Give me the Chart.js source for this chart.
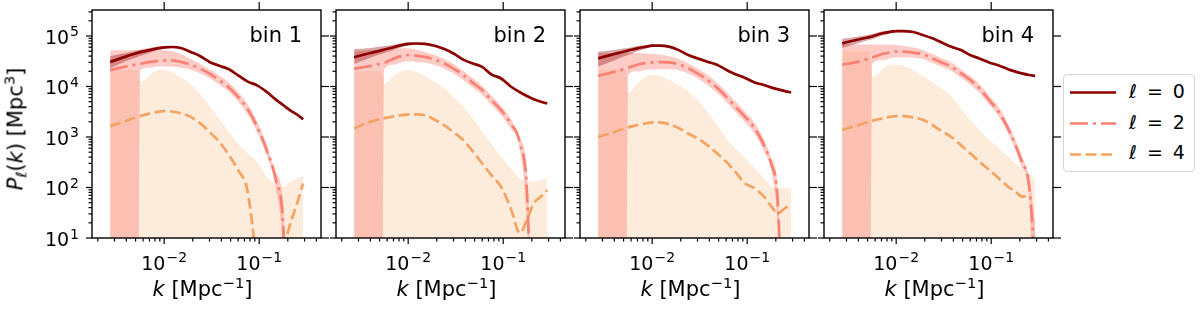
<!DOCTYPE html>
<html>
<head>
<meta charset="utf-8">
<script src="https://cdn.jsdelivr.net/npm/chart.js@4.4.1/dist/chart.umd.min.js"></script>
<style>
  body { margin: 0; background: #fff; }
  #fig { position: relative; width: 1200px; height: 311px; overflow: hidden; font-family: 'DejaVu Sans', sans-serif; color: #000; }
  #fig canvas { position: absolute; top: 0; }
  .txt { position: absolute; white-space: nowrap; line-height: 1; font-size: 21px; z-index: 5; }
  .sup { font-size: 70%; position: relative; top: -0.55em; }
  .sub { font-size: 70%; position: relative; top: 0.3em; }
  .leg { font-size: 19px; word-spacing: 4px; }
  #legend { position: absolute; left: 1063px; top: 74px; width: 132px; height: 98px; box-sizing: border-box;
            border: 1px solid #d4d4d4; border-radius: 4px; background: #fff; z-index: 4; }
  #legend svg { position: absolute; left: 0; top: 0; }
</style>
</head>
<body>
<div id="fig"></div>
<script>
// shared k grid [Mpc^-1]
const kValues = [0.0027, 0.004, 0.0052, 0.0056, 0.007, 0.0085, 0.01, 0.012, 0.015, 0.019, 0.024, 0.03,
                 0.038, 0.048, 0.06, 0.075, 0.095, 0.12, 0.15, 0.18, 0.21, 0.25, 0.29];

const binNames = ['bin 1', 'bin 2', 'bin 3', 'bin 4'];
const legendLabels = ['0', '2', '4'];
const xTickValues = [0.01, 0.1];
const yTickValues = [10, 100, 1000, 10000, 100000];

// bin 1
const bin1_l0   = [30500, 39500, 46000, 48000, 52500, 57000, 59700, 60500, 57800, 48300, 39700, 30600, 25800, 21900, 16600, 12600, 10500, 7800, 5500, 4250, 3400, 2790, 2250];
const bin1_l0Lo = [23000, 32000, 38000, 40000, 46000, 52000, 56000, 58000, 55500, null, null, null, null, null, null, null, null, null, null, null, null, null, null];
const bin1_l0Hi = [40000, 46000, 52000, 54000, 58000, 62000, 63500, 63000, 60000, null, null, null, null, null, null, null, null, null, null, null, null, null, null];
const bin1_l2   = [21000, 25000, 27500, 28000, 30500, 32000, 33000, 33000, 30600, 27000, 22600, 18000, 13300, 9600, 6200, 3650, 1590, 550, 140, 14, 0.001, null, null];
const bin1_l2Lo = [0.001, 0.001, 0.001, 21000, 23500, 25000, 25000, 25000, 23500, 21500, 18000, 14500, 10800, 7800, 5000, 2900, 1250, 420, 95, 4, 0.001, null, null];
const bin1_l2Hi = [52000, 52000, 52000, 52000, 52000, 52000, 52000, 50000, 44000, 35000, 28000, 22000, 16500, 12000, 7800, 4600, 2050, 720, 200, 40, 0.001, null, null];
const bin1_l4   = [1640, 2100, 2500, 2600, 2900, 3150, 3250, 3200, 2950, 2500, 1860, 1260, 800, 440, 220, 89, 3, null, null, 6, 18, 48, 120];
const bin1_l4Hi = [21000, 21000, 21000, 12300, 16500, 21000, 21500, 19000, 15000, 11000, 7000, 4100, 2300, 1260, 745, 470, 324, 163, 112, 102, 130, 150, 175];

// bin 2
const bin2_l0   = [38000, 46000, 52000, 54000, 60000, 66000, 70000, 71000, 70000, 64000, 55000, 45000, 34000, 28400, 24500, 17400, 14400, 10000, 7700, 6400, 5600, 5000, 4600];
const bin2_l0Lo = [28000, 37000, 44000, 46000, 53000, 60000, 65000, 67000, 66500, null, null, null, null, null, null, null, null, null, null, null, null, null, null];
const bin2_l0Hi = [55000, 58000, 62000, 63000, 67000, 72000, 75000, 75000, 73500, null, null, null, null, null, null, null, null, null, null, null, null, null, null];
const bin2_l2   = [22600, 25400, 28500, 29300, 35500, 40000, 42000, 41000, 38500, 34000, 28500, 22600, 16700, 11800, 8500, 5400, 3400, 1850, 750, 50, 0.001, null, null];
const bin2_l2Lo = [0.001, 0.001, 0.001, 22000, 27000, 30000, 31500, 31000, 29500, 26500, 22500, 18000, 13300, 9400, 6800, 4300, 2700, 1450, 560, 12, 0.001, null, null];
const bin2_l2Hi = [50000, 52000, 54000, 55000, 56000, 57000, 57000, 54000, 48000, 42000, 35000, 28000, 20500, 14500, 10400, 6600, 4100, 2300, 950, 150, 0.001, null, null];
const bin2_l4   = [1480, 2000, 2300, 2350, 2550, 2700, 2800, 2800, 2700, 2200, 1700, 1250, 870, 520, 300, 176, 103, 39, 12.6, 24.5, 49, 66, 89];
const bin2_l4Hi = [20000, 20000, 20000, 11500, 16000, 20000, 21000, 19500, 16000, 12300, 9100, 6200, 4000, 2350, 1260, 745, 405, 240, 152, 130, 130, 140, 152];

// bin 3
const bin3_l0   = [36000, 44000, 50000, 51500, 57000, 61000, 64500, 64500, 61500, 52500, 42000, 36000, 31000, 27000, 21500, 17500, 14800, 12000, 10700, 9500, 8800, 8100, 7600];
const bin3_l0Lo = [24500, 33000, 40000, 42000, 50000, 56000, 61000, 62000, 59000, null, null, null, null, null, null, null, null, null, null, null, null, null, null];
const bin3_l0Hi = [49000, 53000, 57000, 58000, 63000, 66000, 68000, 67000, 64000, null, null, null, null, null, null, null, null, null, null, null, null, null, null];
const bin3_l2   = [16300, 19600, 22500, 23500, 27000, 29000, 30000, 30500, 30000, 27500, 23000, 18200, 13500, 9500, 6300, 4000, 2500, 1480, 690, 280, 50, 0.001, null];
const bin3_l2Lo = [0.001, 0.001, 0.001, 17000, 20000, 21500, 22000, 22000, 22000, 21000, 18000, 14500, 10700, 7500, 5000, 3150, 1950, 1150, 520, 200, 15, 0.001, null];
const bin3_l2Hi = [46000, 46000, 46000, 46000, 46000, 45000, 44000, 43000, 40000, 35000, 29000, 23000, 17000, 12000, 8000, 5100, 3200, 1900, 900, 380, 90, 0.001, null];
const bin3_l4   = [1000, 1260, 1500, 1550, 1730, 1850, 1950, 1950, 1800, 1500, 1170, 940, 690, 475, 325, 205, 120, 96, 66, 42, 31, 39, 46];
const bin3_l4Hi = [22000, 22000, 22000, 7600, 11500, 15500, 16800, 16300, 13400, 10700, 7900, 5400, 3150, 1730, 940, 600, 380, 240, 152, 104, 99, 99, 99];

// bin 4
const bin4_l0   = [71600, 85000, 95000, 98000, 112000, 120000, 125000, 125000, 120000, 105000, 90000, 74500, 61000, 53000, 42000, 36000, 30000, 26000, 22000, 19700, 18200, 16900, 16100];
const bin4_l0Lo = [58000, 72000, 83000, 86000, 101000, 111000, 118000, 119000, 115000, null, null, null, null, null, null, null, null, null, null, null, null, null, null];
const bin4_l0Hi = [88000, 98000, 106000, 109000, 122000, 129000, 132000, 131000, 125000, null, null, null, null, null, null, null, null, null, null, null, null, null, null];
const bin4_l2   = [27000, 31000, 36000, 37500, 43500, 47000, 49000, 49000, 47000, 43500, 36000, 30000, 24800, 18200, 13500, 9200, 5400, 3150, 1480, 690, 325, 112, 3];
const bin4_l2Lo = [0.001, 0.001, 0.001, 28000, 33000, 36000, 37500, 38000, 37000, 35000, 29500, 24500, 20300, 14900, 11000, 7500, 4400, 2550, 1200, 550, 250, 75, 0.001];
const bin4_l2Hi = [68000, 68000, 68000, 68000, 68000, 67000, 66000, 63000, 59000, 53000, 44000, 36500, 30000, 22000, 16300, 11200, 6600, 3900, 1850, 870, 420, 160, 20];
const bin4_l4   = [1380, 1730, 2000, 2100, 2300, 2500, 2600, 2600, 2450, 2200, 1730, 1320, 1000, 690, 475, 325, 224, 152, 104, 83, 66, 70, null];
const bin4_l4Hi = [50000, 50000, 50000, 15600, 21200, 26800, 26800, 25600, 21200, 16300, 12000, 9200, 6300, 3700, 2200, 1380, 870, 600, 410, 300, 240, 190, 150];

const bins = [
    { l0: bin1_l0, l0Lo: bin1_l0Lo, l0Hi: bin1_l0Hi, l2: bin1_l2, l2Lo: bin1_l2Lo, l2Hi: bin1_l2Hi, l4: bin1_l4, l4Hi: bin1_l4Hi },
    { l0: bin2_l0, l0Lo: bin2_l0Lo, l0Hi: bin2_l0Hi, l2: bin2_l2, l2Lo: bin2_l2Lo, l2Hi: bin2_l2Hi, l4: bin2_l4, l4Hi: bin2_l4Hi },
    { l0: bin3_l0, l0Lo: bin3_l0Lo, l0Hi: bin3_l0Hi, l2: bin3_l2, l2Lo: bin3_l2Lo, l2Hi: bin3_l2Hi, l4: bin3_l4, l4Hi: bin3_l4Hi },
    { l0: bin4_l0, l0Lo: bin4_l0Lo, l0Hi: bin4_l0Hi, l2: bin4_l2, l2Lo: bin4_l2Lo, l2Hi: bin4_l2Hi, l4: bin4_l4, l4Hi: bin4_l4Hi }
];

// styles
const lineColors = ['#8b0000', '#fa8072', '#f4a460'];
const bandColors = ['rgba(139,0,0,0.35)', 'rgba(250,128,114,0.4)', 'rgba(244,164,96,0.22)'];
const lineDashes = [[], [18, 5, 3, 5], [11, 4.5]];
const lineWidth = 2.7;

// layout of the panels (pixels)
const panelLefts = [92, 336, 580, 824];
const panelWidth = 229;
const plotTop = 10, plotBottom = 238, figHeight = 311;
const xMin = 0.00174, xMax = 0.447;
const yMin = 10, yMax = 327000;
const mainFont = "19px 'DejaVu Sans'", supFont = "14px 'DejaVu Sans'";

Chart.defaults.font.family = "'DejaVu Sans', sans-serif";
Chart.defaults.color = '#000';

// "10" with a raised exponent, like the mathtext tick labels
function drawPow(ctx, value, x, baseline, align) {
    const exp = String(Math.round(Math.log10(value))).replace('-', '\u2212');
    ctx.font = mainFont;
    const w1 = ctx.measureText('10').width;
    ctx.font = supFont;
    const w2 = ctx.measureText(exp).width;
    const total = w1 + 1 + w2;
    const x0 = align === 'center' ? x - total / 2 : x - total;
    ctx.textAlign = 'left';
    ctx.textBaseline = 'alphabetic';
    ctx.fillStyle = '#000';
    ctx.font = mainFont;
    ctx.fillText('10', x0, baseline);
    ctx.font = supFont;
    ctx.fillText(exp, x0 + w1 + 1, baseline - 7.5);
}

// frame, tick marks and tick labels, placed with the chart's own scales
const axisDecor = {
    id: 'axisDecor',
    afterDraw(chart) {
        const { ctx, chartArea: a } = chart;
        const xs = chart.scales.x, ys = chart.scales.y;
        const seg = (x1, y1, x2, y2) => { ctx.beginPath(); ctx.moveTo(x1, y1); ctx.lineTo(x2, y2); ctx.stroke(); };
        ctx.save();
        ctx.strokeStyle = '#000';
        ctx.lineWidth = 1.2;
        for (let e = -4; e <= 1; e++) {
            for (let m = 1; m <= 9; m++) {
                const v = m * Math.pow(10, e);
                if (v < xs.min || v > xs.max) continue;
                const px = xs.getPixelForValue(v);
                seg(px, a.bottom, px, a.bottom + (m === 1 ? 6 : 3.5));
                if (m === 1) seg(px, a.top, px, a.top - 8);
            }
        }
        for (let e = 0; e <= 6; e++) {
            for (let m = 1; m <= 9; m++) {
                const v = m * Math.pow(10, e);
                if (v < ys.min || v > ys.max) continue;
                const py = ys.getPixelForValue(v);
                seg(a.left, py, a.left - (m === 1 ? 6 : 3.5), py);
                if (m === 1) seg(a.right, py, a.right + 8, py);
            }
        }
        ctx.lineWidth = 1.4;
        ctx.strokeRect(a.left, a.top, a.right - a.left, a.bottom - a.top);

        xTickValues.forEach(v => drawPow(ctx, v, xs.getPixelForValue(v), a.bottom + 31.5, 'center'));
        if (chart.options.showYLabels) {
            yTickValues.forEach(v => drawPow(ctx, v, a.left - 13, ys.getPixelForValue(v) + 8, 'right'));
        }
        ctx.restore();
    }
};

const fig = document.getElementById('fig');
const pts = arr => kValues.map((k, i) => ({ x: k, y: arr[i] }));

function lineSet(arr, idx) {
    return {
        data: pts(arr), borderColor: lineColors[idx], borderWidth: lineWidth, borderDash: lineDashes[idx],
        borderCapStyle: 'butt', borderJoinStyle: 'round', pointRadius: 0, fill: false,
        cubicInterpolationMode: 'monotone', order: idx
    };
}
function bandSet(arr, idx, fill) {
    return {
        data: pts(arr), borderWidth: 0, borderColor: 'rgba(0,0,0,0)', backgroundColor: bandColors[idx],
        pointRadius: 0, fill: fill, cubicInterpolationMode: 'monotone', order: 10 + idx
    };
}

bins.forEach((b, i) => {
    const left = panelLefts[i];
    const cLeft = i === 0 ? 0 : left - 20;
    const cWidth = left + panelWidth + 20 - cLeft;
    const canvas = document.createElement('canvas');
    canvas.width = cWidth;
    canvas.height = figHeight;
    canvas.style.left = cLeft + 'px';
    fig.appendChild(canvas);

    new Chart(canvas, {
        type: 'line',
        data: {
            datasets: [
                lineSet(b.l0, 0),
                lineSet(b.l2, 1),
                lineSet(b.l4, 2),
                bandSet(b.l0Lo, 0, false),
                bandSet(b.l0Hi, 0, '-1'),
                bandSet(b.l2Lo, 1, false),
                bandSet(b.l2Hi, 1, '-1'),
                bandSet(b.l4Hi, 2, 'start')
            ]
        },
        options: {
            responsive: false,
            animation: false,
            devicePixelRatio: 1,
            showYLabels: i === 0,
            layout: { padding: { left: i === 0 ? 0 : left - cLeft, right: 20, top: plotTop, bottom: 0 } },
            plugins: { legend: { display: false }, tooltip: { enabled: false } },
            scales: {
                x: {
                    type: 'logarithmic', min: xMin, max: xMax, position: 'bottom',
                    grid: { display: false, drawTicks: false }, border: { display: false },
                    ticks: { display: false },
                    afterFit: s => { s.height = figHeight - plotBottom; s.paddingLeft = 0; s.paddingRight = 0; }
                },
                y: {
                    type: 'logarithmic', min: yMin, max: yMax, display: i === 0,
                    grid: { display: false, drawTicks: false }, border: { display: false },
                    ticks: { display: false },
                    afterFit: s => { s.width = i === 0 ? panelLefts[0] : 0; s.paddingTop = 0; s.paddingBottom = 0; }
                }
            }
        },
        plugins: [axisDecor]
    });

    // panel text
    const bin = document.createElement('div');
    bin.className = 'txt';
    bin.style.left = (left + panelWidth - 19) + 'px';
    bin.style.top = '25px';
    bin.style.transform = 'translateX(-100%)';
    bin.textContent = binNames[i];
    fig.appendChild(bin);

    const xt = document.createElement('div');
    xt.className = 'txt';
    xt.style.left = (left + panelWidth / 2 - 4) + 'px';
    xt.style.top = '279px';
    xt.style.transform = 'translateX(-50%)';
    xt.innerHTML = '<i>k</i> [Mpc<span class="sup">\u22121</span>]';
    fig.appendChild(xt);
});

// y axis title
const yt = document.createElement('div');
yt.className = 'txt';
yt.style.left = '16px';
yt.style.top = '129px';
yt.style.transform = 'translate(-50%, -50%) rotate(-90deg)';
yt.innerHTML = '<i>P</i><span class="sub"><i>\u2113</i></span>(<i>k</i>) [Mpc<span class="sup">3</span>]';
fig.appendChild(yt);

// legend
const legend = document.createElement('div');
legend.id = 'legend';
const rowLineY = [17.5, 48.5, 79.5];
let svg = '<svg width="130" height="96" xmlns="http://www.w3.org/2000/svg">';
legendLabels.forEach((lab, j) => {
    svg += '<line x1="6" x2="52" y1="' + rowLineY[j] + '" y2="' + rowLineY[j] + '" stroke="' + lineColors[j] +
           '" stroke-width="' + lineWidth + '" stroke-dasharray="' + (lineDashes[j].length ? lineDashes[j].join(' ') : 'none') + '"/>';
});
svg += '</svg>';
legend.innerHTML = svg;
fig.appendChild(legend);
legendLabels.forEach((lab, j) => {
    const t = document.createElement('div');
    t.className = 'txt leg';
    t.style.left = '1129px';
    t.style.top = (82 + j * 30.5) + 'px';
    t.innerHTML = '<i>\u2113</i> = ' + lab;
    fig.appendChild(t);
});
</script>
</body>
</html>
